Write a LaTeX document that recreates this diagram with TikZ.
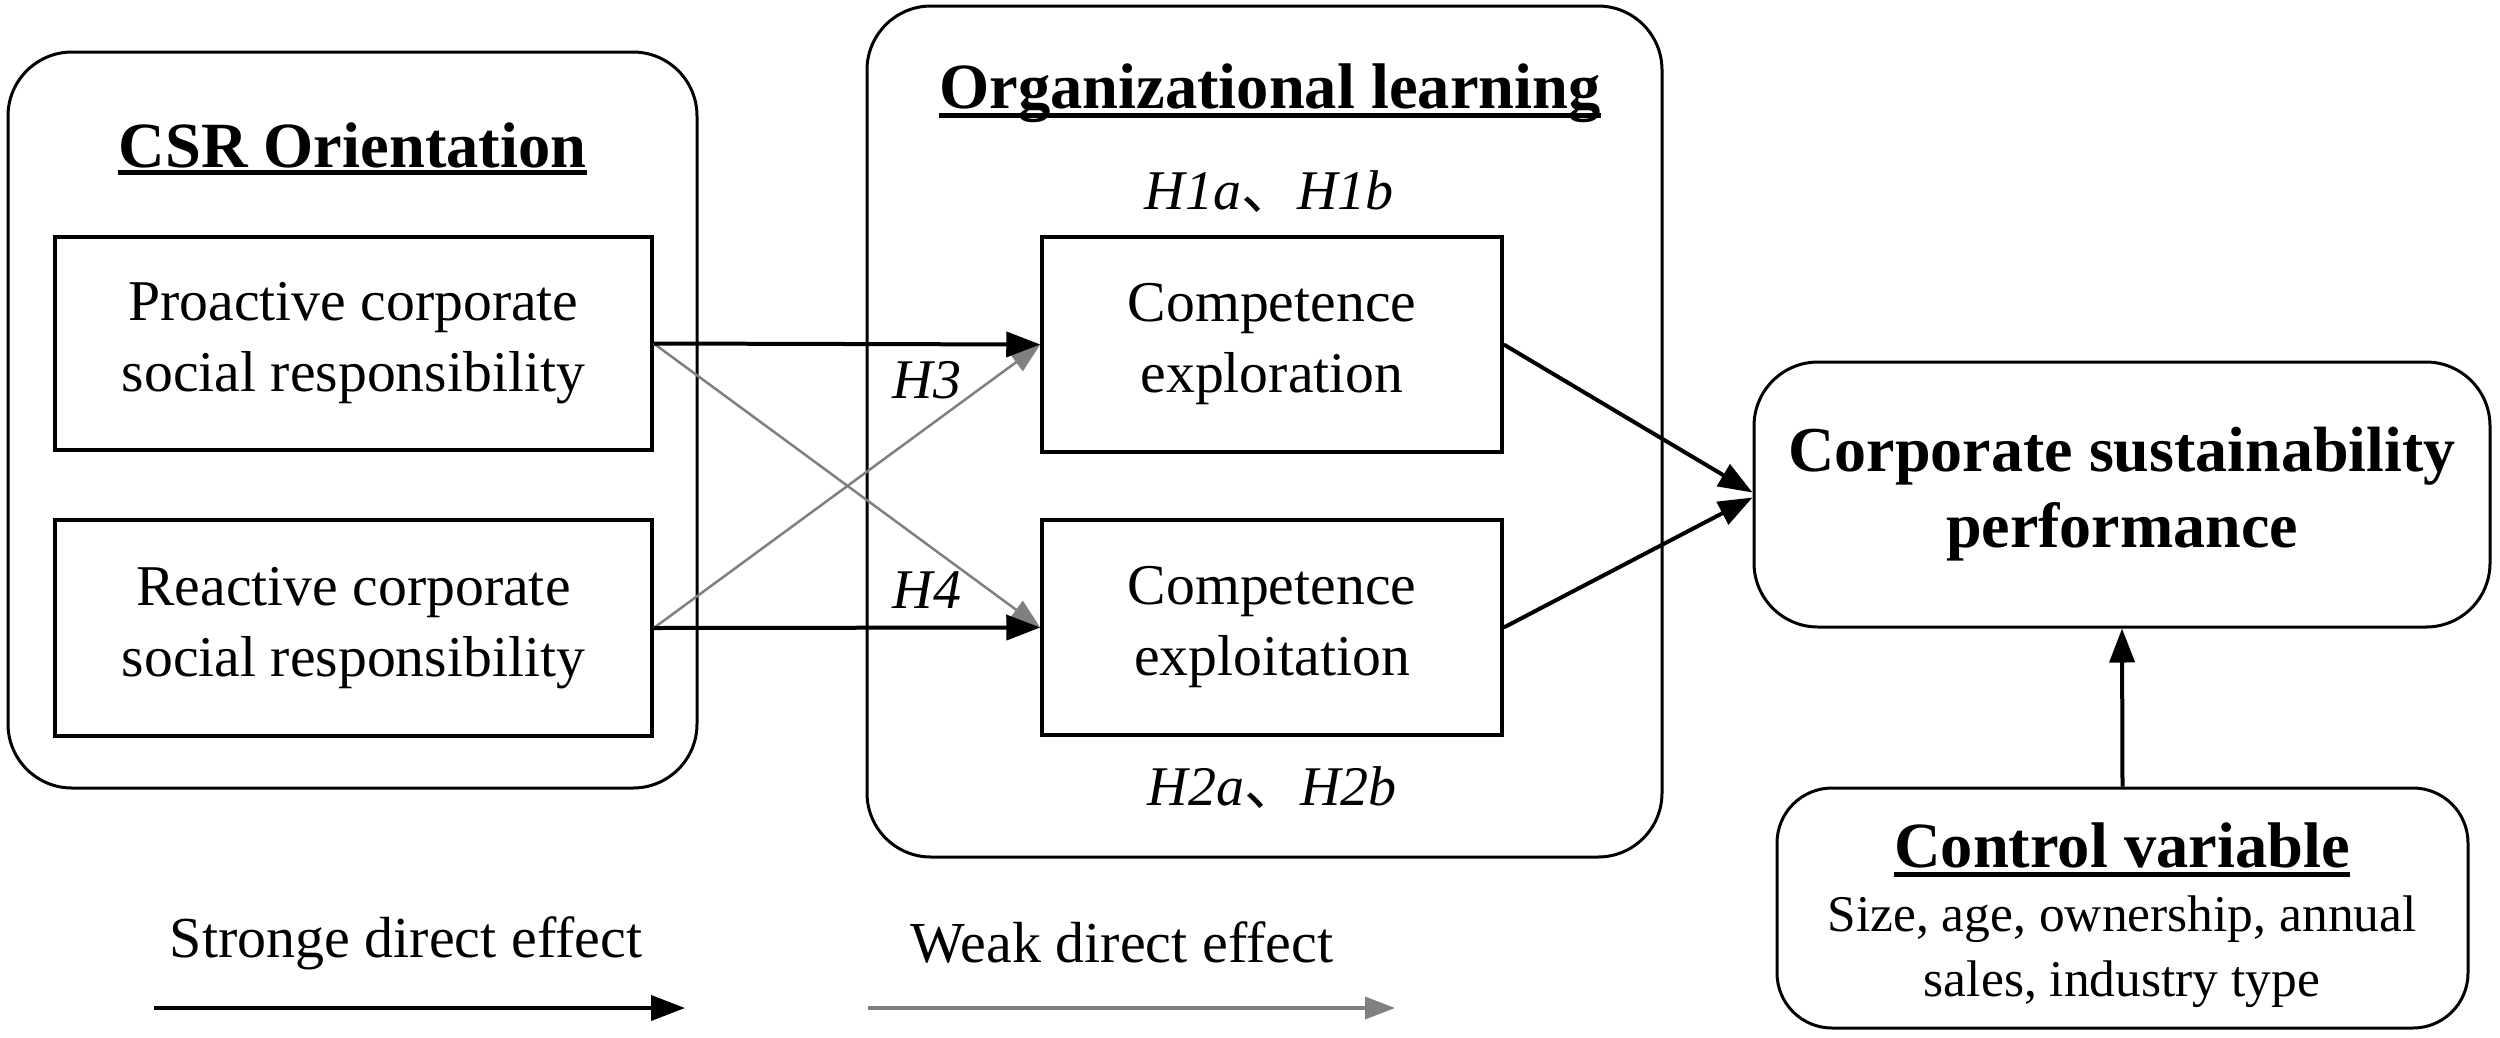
\documentclass[tikz,border=0pt]{standalone}
\usepackage{fontspec}
\setmainfont{Liberation Serif}
\newfontfamily\cjkfont{Noto Sans CJK SC}
\usetikzlibrary{arrows.meta,calc}
\definecolor{weakgray}{RGB}{128,128,128}
\begin{document}
\begin{tikzpicture}[x=1pt,y=-1pt,
 grp/.style={draw=black, line width=3pt, rounded corners=64pt, inner sep=0pt},
 inbox/.style={draw=black, line width=3.5pt, inner sep=0pt, align=center, font=\fontsize{57.7}{71}\selectfont},
 titletxt/.style={inner sep=0pt, anchor=base, font=\fontsize{64.5}{70}\selectfont\bfseries},
 hlab/.style={inner sep=0pt, font=\fontsize{56}{60}\selectfont\itshape},
 plain/.style={inner sep=0pt, font=\fontsize{58}{60}\selectfont},
 strong/.style={draw=black, line width=4pt, -{Triangle[length=34pt,width=25pt]}},
 weak/.style={draw=weakgray, line width=2.5pt, -{Triangle[length=30pt,width=22pt]}},
 ulinestyle/.style={line width=5pt}
]
\fill[white] (0,0) rectangle (2500,1037);
\useasboundingbox (0,0) rectangle (2500,1037);

% group boxes
\node[grp, minimum width=689pt, minimum height=736pt] (csr) at (352.5,420) {};
\node[grp, minimum width=795pt, minimum height=851pt] (org) at (1264.5,431.5) {};

% titles
\node[titletxt] (csrt) at (352.5,167) {CSR Orientation};
\draw[ulinestyle] ($(csrt.base west)+(0,5)$) -- ($(csrt.base east)+(0,5)$);
\node[titletxt] (orgt) at (1270,108) {Organizational learning};
\draw[ulinestyle] ($(orgt.base west)+(0,7)$) -- ($(orgt.base east)+(0,7)$);

% inner boxes
\node[inbox, minimum width=597pt, minimum height=213pt] (pro) at (353.5,343.5) {Proactive corporate\\social responsibility};
\node[inbox, minimum width=597pt, minimum height=216pt] (rea) at (353.5,628) {Reactive corporate\\social responsibility};
\node[inbox, minimum width=460pt, minimum height=215pt] (explr) at (1272,344.5) {Competence\\exploration};
\node[inbox, minimum width=460pt, minimum height=215pt] (explt) at (1272,627.5) {Competence\\exploitation};

% outcome
\node[grp, minimum width=736pt, minimum height=265pt, align=center, font=\fontsize{64}{76}\selectfont\bfseries] (corp) at (2122,494.5) {Corporate sustainability\\performance};

% control
\node[grp, rounded corners=55pt, minimum width=691pt, minimum height=240pt] (ctrl) at (2122.5,908) {};
\node[titletxt] (ctrlt) at (2122,867) {Control variable};
\draw[ulinestyle] ($(ctrlt.base west)+(0,7)$) -- ($(ctrlt.base east)+(0,7)$);
\node[inner sep=0pt, align=center, font=\fontsize{51.5}{65}\selectfont] (ctrlx) at (2122,952) {Size, age, ownership, annual\\sales, industry type};

% hypothesis labels
\node[hlab] (h1) at (1269,192) {H1a{\cjkfont\upshape 、}H1b};
\node[hlab] (h2) at (1272,788) {H2a{\cjkfont\upshape 、}H2b};
\node[hlab] (h3) at (927,380) {H3};
\node[hlab] (h4) at (927,590) {H4};

% arrows
\draw[weak] (pro.east) -- (explt.west);
\draw[weak] (rea.east) -- (explr.west);
\draw[strong] (pro.east) -- (explr.west);
\draw[strong] (rea.east) -- (explt.west);
\draw[strong] (explr.east) -- ($(corp.west)+(0,-2)$);
\draw[strong] (explt.east) -- ($(corp.west)+(0,3)$);
\draw[strong] (ctrl.north) -- (corp.south);

% legend
\node[plain] (lst) at (406,943) {Stronge direct effect};
\node[plain] (lwk) at (1122,943) {Weak direct effect};
\coordinate (ls1) at (154,1008);
\coordinate (ls2) at (685,1008);
\coordinate (lw1) at (868,1008);
\coordinate (lw2) at (1395,1008);
\draw[strong] (ls1) -- (ls2);
\draw[weak, line width=3.5pt] (lw1) -- (lw2);
\end{tikzpicture}
\end{document}
